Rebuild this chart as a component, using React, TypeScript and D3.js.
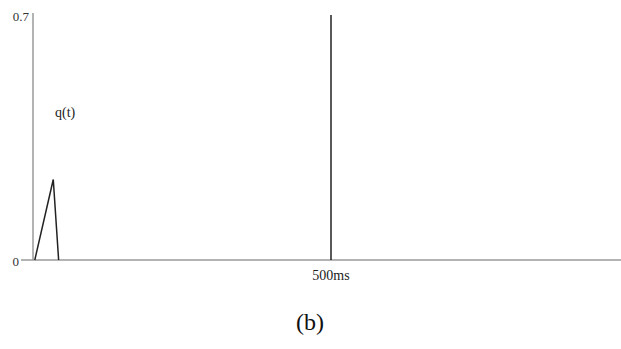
import React from "react";
import * as d3 from "d3";

const timesMs: number[] = [3, 34, 43];
const qValues: number[] = [0, 0.23, 0];
const spikeTime = 500;
const spikeValue = 0.7;
const yTickLabels: string[] = ["0", "0.7"];
const yTickValues: number[] = [0, 0.7];
const xTickLabel = "500ms";
const seriesLabel = "q(t)";
const caption = "(b)";

export default function App() {
  const W = 621, H = 349;
  const x = d3.scaleLinear().domain([0, 500]).range([33, 331]);
  const y = d3.scaleLinear().domain([0, 0.7]).range([260, 15]);
  const line = d3.line<number>().x((_, i) => x(timesMs[i])).y((d) => y(d));
  const font = "'Liberation Serif', 'Times New Roman', serif";
  return (
    <svg width={W} height={H} style={{ position: "absolute", left: 0, top: 0, background: "#fff" }}>
      {/* axes */}
      <line x1={x(0)} x2={x(0)} y1={13} y2={y(0)} stroke="#9a9a9a" strokeWidth={1.5} />
      <line x1={21} x2={W} y1={y(0)} y2={y(0)} stroke="#9a9a9a" strokeWidth={1.5} />
      {yTickValues.map((v, i) => (
        <text key={i} x={v === 0 ? 19 : 29} y={y(v) + 1} dy="0.35em" textAnchor="end" fontFamily={font} fontSize={13} fill="#333">
          {yTickLabels[i]}
        </text>
      ))}
      <text x={x(spikeTime)} y={y(0) + 20} textAnchor="middle" fontFamily={font} fontSize={14} fill="#222">
        {xTickLabel}
      </text>
      {/* data */}
      <path d={line(qValues) ?? ""} fill="none" stroke="#222" strokeWidth={1.5} />
      <line x1={x(spikeTime)} x2={x(spikeTime)} y1={y(0)} y2={y(spikeValue)} stroke="#222" strokeWidth={1.5} />
      <text x={55} y={117} fontFamily={font} fontSize={14} fill="#222">{seriesLabel}</text>
      <text x={310} y={330} textAnchor="middle" fontFamily={font} fontSize={24} fill="#111">{caption}</text>
    </svg>
  );
}
